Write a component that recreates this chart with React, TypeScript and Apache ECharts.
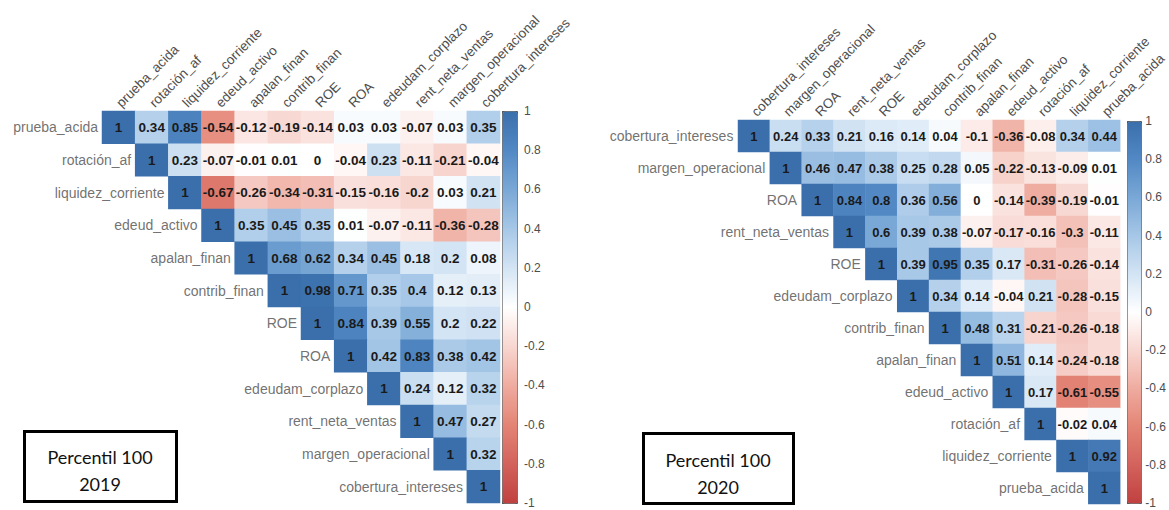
import React, { useEffect, useRef } from "react";
import * as echarts from "echarts";

const vars2019 = [
  "prueba_acida", "rotación_af", "liquidez_corriente", "edeud_activo", "apalan_finan", "contrib_finan",
  "ROE", "ROA", "edeudam_corplazo", "rent_neta_ventas", "margen_operacional", "cobertura_intereses",
];
// upper triangle rows, each starting at the diagonal
const corr2019: number[][] = [
  [1, 0.34, 0.85, -0.54, -0.12, -0.19, -0.14, 0.03, 0.03, -0.07, 0.03, 0.35],
  [1, 0.23, -0.07, -0.01, 0.01, 0, -0.04, 0.23, -0.11, -0.21, -0.04],
  [1, -0.67, -0.26, -0.34, -0.31, -0.15, -0.16, -0.2, 0.03, 0.21],
  [1, 0.35, 0.45, 0.35, 0.01, -0.07, -0.11, -0.36, -0.28],
  [1, 0.68, 0.62, 0.34, 0.45, 0.18, 0.2, 0.08],
  [1, 0.98, 0.71, 0.35, 0.4, 0.12, 0.13],
  [1, 0.84, 0.39, 0.55, 0.2, 0.22],
  [1, 0.42, 0.83, 0.38, 0.42],
  [1, 0.24, 0.12, 0.32],
  [1, 0.47, 0.27],
  [1, 0.32],
  [1],
];

const vars2020 = [
  "cobertura_intereses", "margen_operacional", "ROA", "rent_neta_ventas", "ROE", "edeudam_corplazo",
  "contrib_finan", "apalan_finan", "edeud_activo", "rotación_af", "liquidez_corriente", "prueba_acida",
];
const corr2020: number[][] = [
  [1, 0.24, 0.33, 0.21, 0.16, 0.14, 0.04, -0.1, -0.36, -0.08, 0.34, 0.44],
  [1, 0.46, 0.47, 0.38, 0.25, 0.28, 0.05, -0.22, -0.13, -0.09, 0.01],
  [1, 0.84, 0.8, 0.36, 0.56, 0, -0.14, -0.39, -0.19, -0.01],
  [1, 0.6, 0.39, 0.38, -0.07, -0.17, -0.16, -0.3, -0.11],
  [1, 0.39, 0.95, 0.35, 0.17, -0.31, -0.26, -0.14],
  [1, 0.34, 0.14, -0.04, 0.21, -0.28, -0.15],
  [1, 0.48, 0.31, -0.21, -0.26, -0.18],
  [1, 0.51, 0.14, -0.24, -0.18],
  [1, 0.17, -0.61, -0.55],
  [1, -0.02, 0.04],
  [1, 0.92],
  [1],
];

const panelTitles = ["Percentil 100", "2019", "Percentil 100", "2020"];

const FONT = "Liberation Sans";
const LABEL_COLOR = "#4d4d4d";
// colour stops for -1, -0.8, ..., 0.8, 1
const COLORS = [
  "#c0413f", "#d3625c", "#e38475", "#efab9f", "#f8d6d0", "#ffffff",
  "#d3e4f4", "#a6c7e7", "#7aa8d6", "#5289c4", "#3a6fab",
];

function heatData(m: number[][]) {
  const out: any[] = [];
  m.forEach((row, i) => row.forEach((v, k) => out.push([i + k, i, v])));
  return out;
}

function diagData(names: string[]) {
  return names.map((n, i) => ({ value: [i, i], name: n }));
}

export default function App() {
  const ref = useRef<HTMLDivElement>(null);
  useEffect(() => {
    document.body.style.margin = "0";
    const chart = echarts.init(ref.current!, null, { renderer: "svg" });

    const panels = [
      { names: vars2019, m: corr2019, left: 102, top: 111, w: 398, h: 392, fs: 13.5, barLeft: 502, barTop: 111, barW: 15, barH: 392 },
      { names: vars2020, m: corr2020, left: 738, top: 120, w: 386, h: 384, fs: 13, barLeft: 1127, barTop: 121, barW: 14, barH: 382 },
    ];

    const grid: any[] = [];
    const xAxis: any[] = [];
    const yAxis: any[] = [];
    const series: any[] = [];
    const visualMap: any[] = [];

    panels.forEach((p, pi) => {
      grid.push({ left: p.left, top: p.top, width: p.w, height: p.h });
      xAxis.push({
        type: "category", gridIndex: pi * 2, data: p.names, position: "top",
        axisLine: { show: false }, axisTick: { show: false }, splitLine: { show: false },
        axisLabel: { interval: 0, rotate: -45, color: LABEL_COLOR, fontSize: 13.5, fontFamily: FONT, margin: 6 },
      });
      yAxis.push({
        type: "category", gridIndex: pi * 2, data: p.names, inverse: true,
        axisLine: { show: false }, axisTick: { show: false }, axisLabel: { show: false }, splitLine: { show: false },
      });
      // colorbar axis grid
      grid.push({ left: p.barLeft, top: p.barTop, width: p.barW, height: p.barH });
      xAxis.push({ type: "value", gridIndex: pi * 2 + 1, show: false, min: 0, max: 1 });
      yAxis.push({
        type: "value", gridIndex: pi * 2 + 1, min: -1, max: 1, interval: 0.2, position: "right",
        axisLine: { show: false }, splitLine: { show: false },
        axisTick: { show: true, length: 4, lineStyle: { color: "#777" } },
        axisLabel: { color: LABEL_COLOR, fontSize: 12, fontFamily: FONT, margin: 7, formatter: (v: number) => String(Math.round(v * 10) / 10) },
      });
      const heatIdx = series.length;
      series.push({
        type: "heatmap", xAxisIndex: pi * 2, yAxisIndex: pi * 2, data: heatData(p.m),
        itemStyle: { borderWidth: 0 },
        label: { show: true, fontWeight: "bold", fontSize: p.fs, fontFamily: FONT, color: "#1a1a1a", formatter: (q: any) => String(q.value[2]) },
        emphasis: { disabled: true },
      });
      series.push({
        type: "scatter", xAxisIndex: pi * 2, yAxisIndex: pi * 2, data: diagData(p.names),
        symbolSize: 1, itemStyle: { color: "rgba(0,0,0,0)" },
        label: { show: true, position: "left", distance: 20, formatter: "{b}", color: LABEL_COLOR, fontSize: 14, fontFamily: FONT },
        emphasis: { disabled: true }, silent: true,
      });
      visualMap.push({
        type: "continuous", seriesIndex: heatIdx, min: -1, max: 1, calculable: false, hoverLink: false,
        orient: "vertical", left: p.barLeft, top: p.barTop, itemWidth: p.barW, itemHeight: p.barH,
        padding: 0, borderWidth: 1, borderColor: "#555", showLabel: false,
        inRange: { color: COLORS },
      });
    });

    const boxes = [
      { x: 24.5, y: 431.5, w: 152, h: 70, cx: 100, l1: 457, l2: 484, t: [panelTitles[0], panelTitles[1]] },
      { x: 643.5, y: 433.5, w: 150, h: 70, cx: 718, l1: 460, l2: 487, t: [panelTitles[2], panelTitles[3]] },
    ];
    const graphic: any[] = [];
    boxes.forEach((b) => {
      graphic.push({ type: "rect", shape: { x: b.x, y: b.y, width: b.w, height: b.h }, style: { fill: "#fff", stroke: "#000", lineWidth: 3 } });
      graphic.push({ type: "text", x: b.cx, y: b.l1, style: { text: b.t[0], font: "18px Lato", fill: "#111", textAlign: "center", textVerticalAlign: "middle" } });
      graphic.push({ type: "text", x: b.cx, y: b.l2, style: { text: b.t[1], font: "18px Lato", fill: "#111", textAlign: "center", textVerticalAlign: "middle" } });
    });

    chart.setOption({
      animation: false,
      backgroundColor: "#fff",
      grid, xAxis, yAxis, series, visualMap, graphic,
    });
    return () => chart.dispose();
  }, []);
  return <div ref={ref} style={{ width: 1169, height: 510 }} />;
}
